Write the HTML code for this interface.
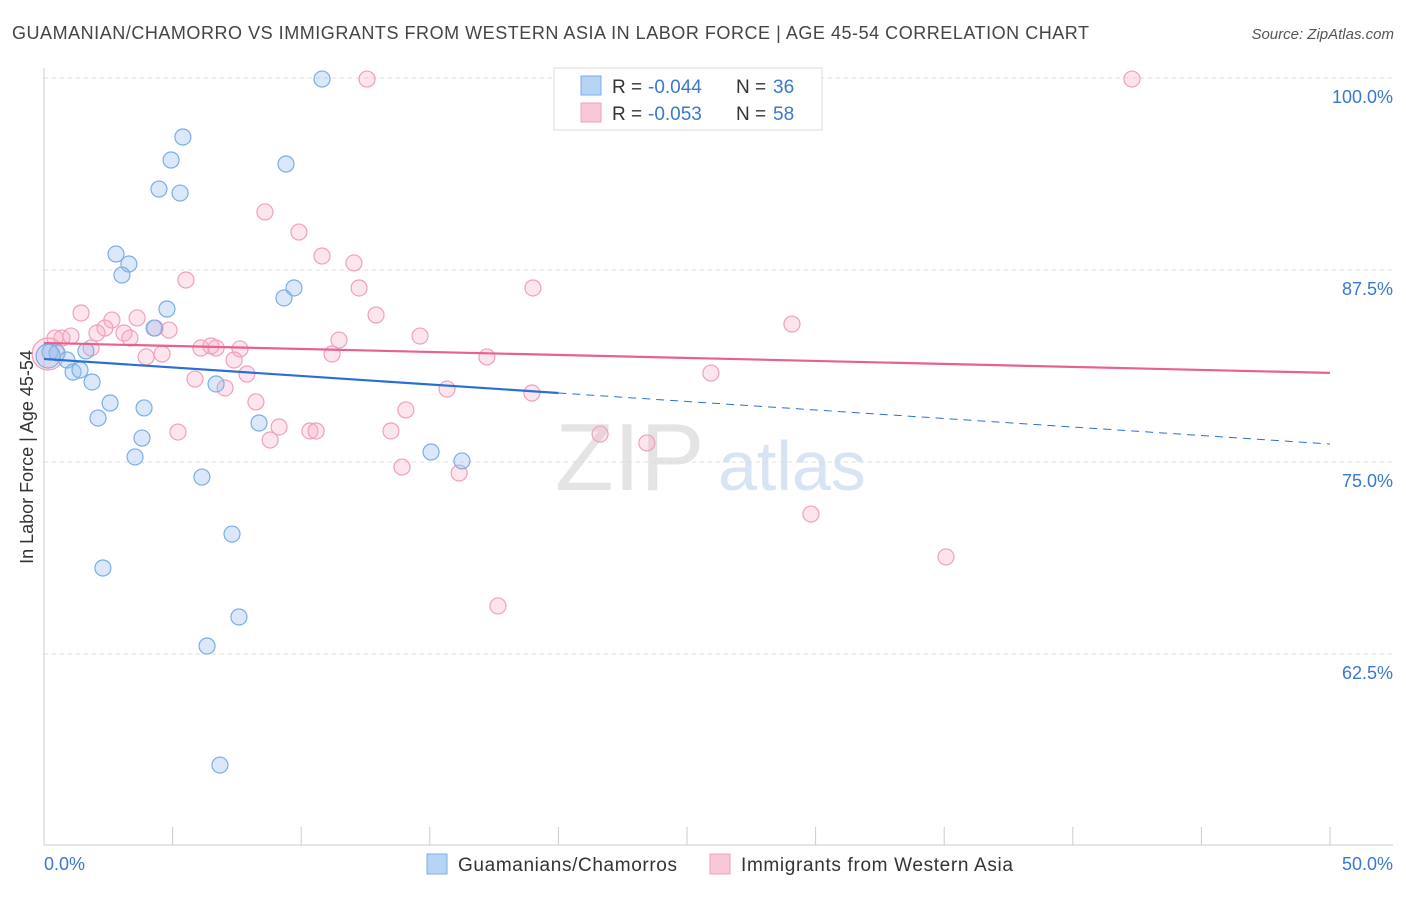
<!DOCTYPE html>
<html><head><meta charset="utf-8"><style>
body{margin:0;background:#fff;font-family:"Liberation Sans",sans-serif}
svg text{font-family:"Liberation Sans",sans-serif}
</style></head><body>
<svg id="chart" width="1406" height="892" xmlns="http://www.w3.org/2000/svg">
<text x="12" y="39" font-size="18" fill="#444" textLength="1077" lengthAdjust="spacing">GUAMANIAN/CHAMORRO VS IMMIGRANTS FROM WESTERN ASIA IN LABOR FORCE | AGE 45-54 CORRELATION CHART</text>
<text x="1394" y="39" font-size="15" fill="#555" font-style="italic" text-anchor="end">Source: ZipAtlas.com</text>
<text x="33" y="457" font-size="18" fill="#333" text-anchor="middle" transform="rotate(-90 33 457)">In Labor Force | Age 45-54</text>
<text x="555" y="490" font-size="96" fill="#e4e4e4" font-family="Liberation Serif">ZIP</text>
<text x="718" y="490" font-size="70" fill="#d6e4f4">atlas</text>
<g id="grid"></g><g id="axes"></g><g id="pts"></g><g id="lines"></g>
<g>
<rect x="554" y="68" width="268" height="62" fill="#fff" stroke="#ddd"/>
<rect x="581" y="76" width="20" height="19" fill="#b8d4f4" stroke="#7aaee6"/>
<text x="612" y="93" font-size="19" fill="#333">R =</text>
<text x="648" y="93" font-size="19" fill="#3a78d0">-0.044</text>
<text x="736" y="93" font-size="19" fill="#333">N =</text>
<text x="773" y="93" font-size="19" fill="#3a78d0">36</text>
<rect x="581" y="103" width="20" height="19" fill="#f9c8d8" stroke="#f0a0bb"/>
<text x="612" y="120" font-size="19" fill="#333">R =</text>
<text x="648" y="120" font-size="19" fill="#3a78d0">-0.053</text>
<text x="736" y="120" font-size="19" fill="#333">N =</text>
<text x="773" y="120" font-size="19" fill="#3a78d0">58</text>
</g>
<g>
<rect x="427" y="854" width="20" height="20" fill="#b8d4f4" stroke="#7aaee6"/>
<text x="458" y="871" font-size="19" fill="#333" textLength="219" lengthAdjust="spacing">Guamanians/Chamorros</text>
<rect x="710" y="854" width="20" height="20" fill="#f9c8d8" stroke="#f0a0bb"/>
<text x="741" y="871" font-size="19" fill="#333" textLength="272" lengthAdjust="spacing">Immigrants from Western Asia</text>
</g>
</svg>
<script>
const yTicks=[100,87.5,75,62.5];
const yTickLabels=["100.0%","87.5%","75.0%","62.5%"];
const xTicks=[0,5,10,15,20,25,30,35,40,45,50];
const blueX=[10.81,5.40,4.94,4.47,5.29,9.41,2.80,3.30,3.03,9.72,9.33,4.78,4.28,0.23,0.51,0.89,1.63,1.13,1.40,1.87,6.69,2.57,3.89,2.10,8.36,3.81,15.05,16.25,3.54,6.14,7.31,2.29,7.58,6.34,6.84,0.16];
const blueY=[99.93,96.16,94.66,92.77,92.51,94.40,88.54,87.89,87.17,86.33,85.68,84.96,83.72,82.16,82.10,81.64,82.23,80.86,80.99,80.21,80.08,78.84,78.52,77.86,77.54,76.56,75.65,75.07,75.33,74.02,70.31,68.10,64.91,63.02,55.27,81.90];
const pinkX=[12.56,20.49,42.30,8.59,9.91,10.81,12.05,5.52,12.25,19.01,12.91,1.44,2.64,3.62,2.37,4.86,4.32,3.11,3.34,2.06,1.05,0.70,0.43,11.47,14.62,29.08,6.49,6.10,6.69,7.62,1.83,4.59,3.97,11.20,17.22,7.39,7.89,5.87,7.04,15.67,18.97,25.93,8.24,14.07,9.14,10.34,10.58,13.49,5.21,8.79,21.62,23.44,13.92,16.14,29.82,35.07,17.65,0.16];
const pinkY=[99.93,99.93,99.93,91.28,89.97,88.41,87.96,86.85,86.33,86.33,84.57,84.70,84.24,84.38,83.72,83.59,83.72,83.40,83.07,83.40,83.20,83.07,83.07,82.94,83.20,83.98,82.55,82.42,82.42,82.36,82.42,82.03,81.84,82.03,81.84,81.64,80.73,80.40,79.82,79.75,79.49,80.79,78.91,78.39,77.28,77.02,77.02,77.02,76.95,76.43,76.82,76.24,74.67,74.28,71.61,68.82,65.63,82.03];
const blueTrend=[81.71,76.17];
const pinkTrend=[82.75,80.8];
const NS="http://www.w3.org/2000/svg";
const sx=v=>44+v*25.72, sy=v=>78+(100-v)*15.36;
function mk(t,a,p){const e=document.createElementNS(NS,t);for(const k in a)e.setAttribute(k,a[k]);p.appendChild(e);return e;}
const grid=document.getElementById('grid'),axes=document.getElementById('axes'),pts=document.getElementById('pts'),lines=document.getElementById('lines');
yTicks.forEach((t,i)=>{
 const l=mk('line',{x1:44,x2:1393,y1:sy(t),y2:sy(t),stroke:'#ddd','stroke-dasharray':'4,4'},grid);
 
 
 const tx=mk('text',{x:1393,y:sy(t)+25,'font-size':18,fill:'#3a78d0','text-anchor':'end'},grid);
 tx.textContent=yTickLabels[i];
 
 
});
const ax=mk('line',{x1:44,x2:44,y1:68,y2:845,stroke:'#ccc'},axes);


const bx=mk('line',{x1:44,x2:1393,y1:845,y2:845,stroke:'#ccc'},axes);


xTicks.forEach(t=>{const l=mk('line',{x1:sx(t),x2:sx(t),y1:827,y2:845,stroke:'#ccc'},axes);
 
 });
const x0=mk('text',{x:44,y:870,'font-size':18,fill:'#3a78d0'},axes);x0.textContent='0.0%';


const x1=mk('text',{x:1393,y:870,'font-size':18,fill:'#3a78d0','text-anchor':'end'},axes);x1.textContent='50.0%';


pinkX.forEach((x,i)=>{const last=i===pinkX.length-1;
 const c=mk('circle',{cx:sx(x),cy:sy(pinkY[i]),r:last?16:8,fill:'rgba(245,170,195,0.3)',stroke:'#f0a0bb','stroke-width':1.2},pts);
 
 });
blueX.forEach((x,i)=>{const last=i===blueX.length-1;
 const c=mk('circle',{cx:sx(x),cy:sy(blueY[i]),r:last?12:8,fill:'rgba(150,190,240,0.35)',stroke:'#7aaee6','stroke-width':1.2},pts);
 
 });
const bAt=v=>blueTrend[0]+(blueTrend[1]-blueTrend[0])*v/50;
const b1=mk('line',{x1:sx(0),y1:sy(bAt(0)),x2:sx(20),y2:sy(bAt(20)),stroke:'#2a6fd6','stroke-width':2.2},lines);


const b2=mk('line',{x1:sx(20),y1:sy(bAt(20)),x2:sx(50),y2:sy(bAt(50)),stroke:'#2a6fd6','stroke-width':1,'stroke-dasharray':'8,6'},lines);


const p1=mk('line',{x1:sx(0),y1:sy(pinkTrend[0]),x2:sx(50),y2:sy(pinkTrend[1]),stroke:'#e8608e','stroke-width':2.2},lines);


</script>
</body></html>
